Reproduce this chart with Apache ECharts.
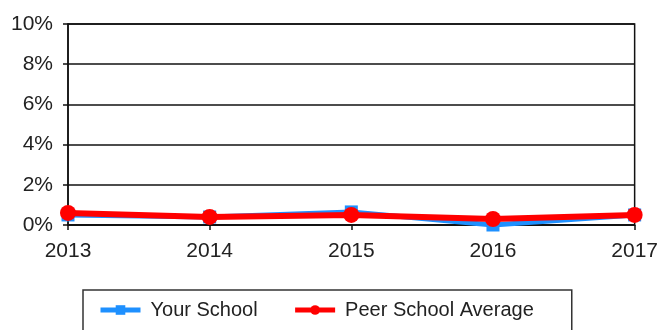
<!DOCTYPE html>
<html>
<head>
<meta charset="utf-8">
<script src="https://cdn.jsdelivr.net/npm/echarts@6/dist/echarts.min.js"></script>
<style>html,body{margin:0;padding:0;background:#fff}#c{width:661px;height:330px}</style>
</head>
<body>
<div id="c"></div>
<script>
const years = ['2013', '2014', '2015', '2016', '2017'];
const yourSchool = [0.5, 0.4, 0.65, 0.0, 0.5];
const peerAverage = [0.6, 0.4, 0.5, 0.3, 0.5];
const yTicks = { min: 0, max: 10, interval: 2 };

const chart = echarts.init(document.getElementById('c'));
const font = 'Liberation Sans, Arial, sans-serif';
chart.setOption({
  animation: false,
  backgroundColor: '#fff',
  grid: { left: 68, right: 26, top: 24, bottom: 105, show: true, borderColor: '#111', borderWidth: 1.5, backgroundColor: 'transparent' },
  xAxis: {
    type: 'category', data: years, boundaryGap: false,
    axisLine: { lineStyle: { color: '#111', width: 1.5 } },
    axisTick: { show: true, inside: false, length: 5, lineStyle: { color: '#111', width: 1.5 } },
    axisLabel: { color: '#222', fontSize: 21, fontFamily: font, margin: 16 },
    splitLine: { show: false }
  },
  yAxis: {
    type: 'value', min: yTicks.min, max: yTicks.max, interval: yTicks.interval,
    axisLine: { show: true, lineStyle: { color: '#111', width: 1.5 } },
    axisTick: { show: true, inside: false, length: 5, lineStyle: { color: '#111', width: 1.5 } },
    axisLabel: { color: '#222', fontSize: 21, fontFamily: font, margin: 15, formatter: '{value}%' },
    splitLine: { show: true, lineStyle: { color: '#111', width: 1.5 } }
  },
  legend: {
    left: 83, top: 290,
    padding: [10, 38, 30, 15],
    borderColor: '#333', borderWidth: 1.5,
    itemWidth: 40, itemHeight: 12, itemGap: 35,
    lineStyle: { width: 5 },
    textStyle: { color: '#222', fontSize: 20, fontFamily: font, padding: [0, 0, 0, 5] },
    data: ['Your School', 'Peer School Average']
  },
  series: [
    {
      name: 'Your School', type: 'line', data: yourSchool,
      symbol: 'rect', symbolSize: 13,
      lineStyle: { color: '#1e90ff', width: 5 },
      itemStyle: { color: '#1e90ff' }, z: 2
    },
    {
      name: 'Peer School Average', type: 'line', data: peerAverage,
      symbol: 'circle', symbolSize: 16,
      lineStyle: { color: '#ff0000', width: 6 },
      itemStyle: { color: '#ff0000' }, z: 3
    }
  ]
});
</script>
</body>
</html>
